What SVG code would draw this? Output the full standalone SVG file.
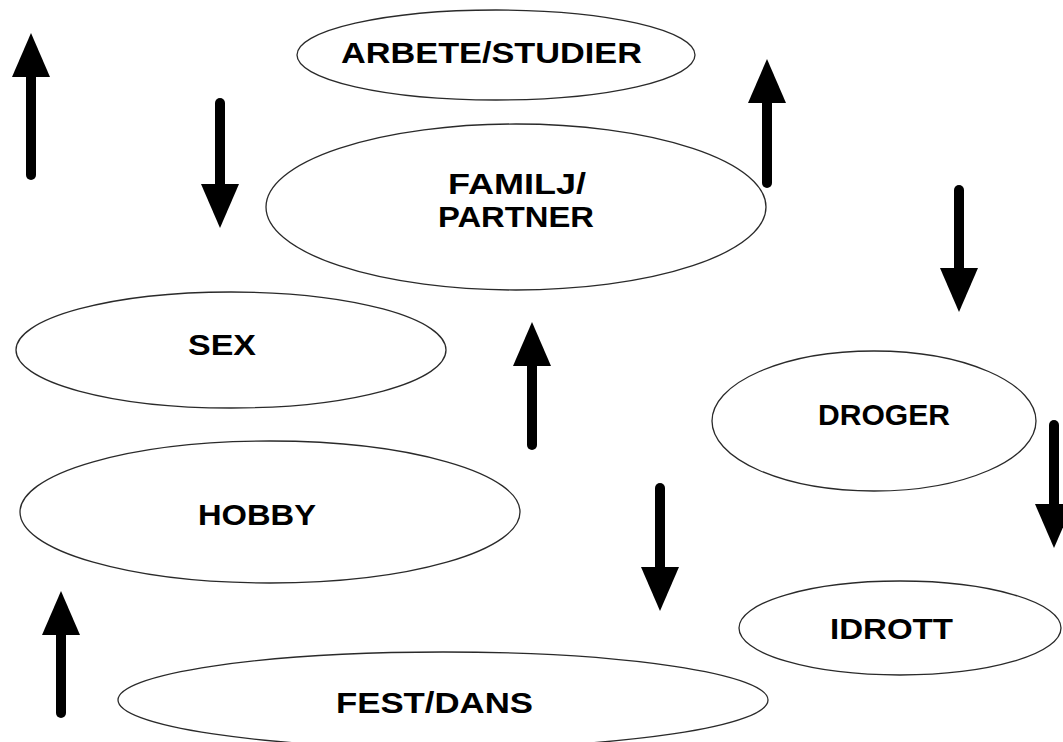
<svg xmlns="http://www.w3.org/2000/svg" width="1063" height="742" viewBox="0 0 1063 742">
  <style>
    .node ellipse { fill: #ffffff; stroke: #2a2a2a; stroke-width: 1.3; }
    .node text { font-family: "Liberation Sans", Arial, sans-serif; font-weight: bold; font-size: 30px; fill: #000000; }
    .arrow { stroke: #000000; stroke-width: 10; stroke-linecap: round; fill: none; marker-end: url(#head); }
  </style>
  <defs>
    <marker id="head" markerUnits="userSpaceOnUse" markerWidth="44" markerHeight="38" refX="0" refY="19" orient="auto" overflow="visible">
      <path d="M0,0 L44,19 L0,38 z" fill="#000000"/>
    </marker>
  </defs>
  <rect x="0" y="0" width="1063" height="742" fill="#ffffff"/>

  <g id="arbete-studier" class="node">
    <ellipse cx="496" cy="55" rx="199" ry="45"/>
    <text x="341" y="63" textLength="301" lengthAdjust="spacingAndGlyphs">ARBETE/STUDIER</text>
  </g>
  <g id="familj-partner" class="node">
    <ellipse cx="516" cy="207" rx="250" ry="83"/>
    <text x="448" y="194" textLength="138" lengthAdjust="spacingAndGlyphs">FAMILJ/</text>
    <text x="438" y="227" textLength="156" lengthAdjust="spacingAndGlyphs">PARTNER</text>
  </g>
  <g id="sex" class="node">
    <ellipse cx="231" cy="350" rx="215" ry="58"/>
    <text x="188" y="355" textLength="68" lengthAdjust="spacingAndGlyphs">SEX</text>
  </g>
  <g id="hobby" class="node">
    <ellipse cx="270" cy="512" rx="250" ry="71"/>
    <text x="198" y="525" textLength="118" lengthAdjust="spacingAndGlyphs">HOBBY</text>
  </g>
  <g id="droger" class="node">
    <ellipse cx="874" cy="421" rx="162" ry="70"/>
    <text x="818" y="425" textLength="132" lengthAdjust="spacingAndGlyphs">DROGER</text>
  </g>
  <g id="idrott" class="node">
    <ellipse cx="900" cy="628" rx="161" ry="47"/>
    <text x="830" y="639" textLength="123" lengthAdjust="spacingAndGlyphs">IDROTT</text>
  </g>
  <g id="fest-dans" class="node">
    <ellipse cx="443" cy="700" rx="325" ry="48"/>
    <text x="336" y="713" textLength="197" lengthAdjust="spacingAndGlyphs">FEST/DANS</text>
  </g>

  <g id="connectors">
    <line class="arrow" x1="31" y1="175" x2="31" y2="77"/>
    <line class="arrow" x1="220" y1="103" x2="220" y2="184"/>
    <line class="arrow" x1="767" y1="183" x2="767" y2="103"/>
    <line class="arrow" x1="959" y1="190" x2="959" y2="268"/>
    <line class="arrow" x1="532" y1="445" x2="532" y2="366"/>
    <line class="arrow" x1="1054" y1="425" x2="1054" y2="504"/>
    <line class="arrow" x1="660" y1="488" x2="660" y2="567"/>
    <line class="arrow" x1="61" y1="713" x2="61" y2="635"/>
  </g>
</svg>
